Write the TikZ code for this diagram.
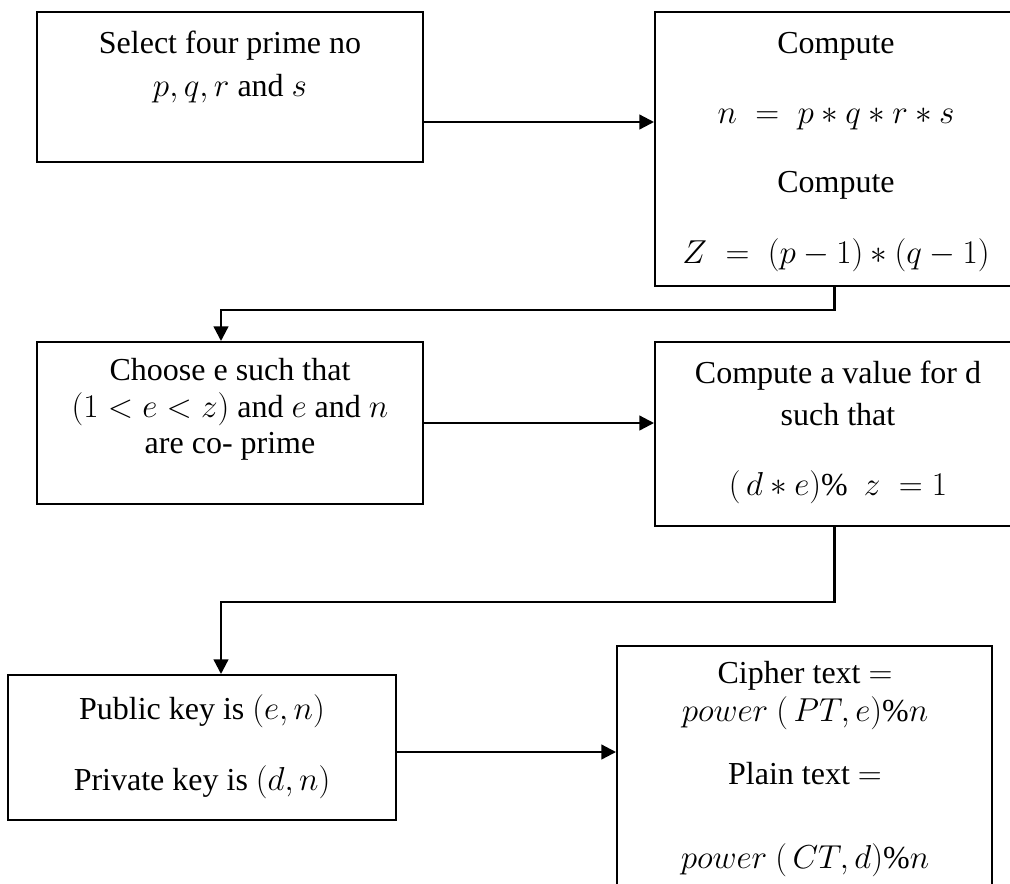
\documentclass[tikz,border=0pt]{standalone}
\usepackage{fontspec}
\setmainfont{Liberation Serif}
\usetikzlibrary{arrows.meta,calc}
\def\u{0.75pt}
\tikzset{
  box/.style={draw=black, line width=1.5pt, inner sep=0pt, fill=none},
  txt/.style={inner sep=0pt, anchor=base, font=\fontsize{24}{28}\selectfont},
  arr/.style={line width=1.7pt, -{Triangle[length=11pt,width=11pt]}},
  conn/.style={line width=1.7pt}
}
\begin{document}
\begin{tikzpicture}[x=0.75pt,y=-0.75pt]
\useasboundingbox (0,0) rectangle (1010,883);
\clip (0,0) rectangle (1010,883);
% boxes
\node[box, minimum width=386*\u, minimum height=150*\u] (b1) at (230,87) {};
\node[box, minimum width=359*\u, minimum height=274*\u] (b2) at (834.5,149) {};
\node[box, minimum width=386*\u, minimum height=162*\u] (b3) at (230,423) {};
\node[box, minimum width=359*\u, minimum height=184*\u] (b4) at (834.5,434) {};
\node[box, minimum width=388*\u, minimum height=145*\u] (b5) at (202,747.5) {};
\node[box, minimum width=375*\u, minimum height=254*\u] (b6) at (804.5,773) {};
% texts
\node[txt] (t1a) at (230,53) {Select four prime no};
\node[txt] (t1b) at (230,96) {$p,q,r$ and $s$};
\node[txt] (t2a) at (836,53) {Compute};
\node[txt] (t2b) at (836,123) {$n\;=\;p\ast q\ast r\ast s$};
\node[txt] (t2c) at (836,192) {Compute};
\node[txt] (t2d) at (836,263) {$Z\;=\;(p-1)\ast(q-1)$};
\node[txt] (t3a) at (230,380) {Choose e such that};
\node[txt] (t3b) at (230,417) {$(1<e<z)$ and $e$ and $n$};
\node[txt] (t3c) at (230,453) {are co- prime};
\node[txt] (t4a) at (838,383) {Compute a value for d};
\node[txt] (t4b) at (838,425) {such that};
\node[txt] (t4c) at (838,495) {$(\,d\ast e)$\%\ \ $z\;=1$};
\node[txt] (t5a) at (202,719) {Public key is $(e,n)$};
\node[txt] (t5b) at (202,790) {Private key is $(d,n)$};
\node[txt] (t6a) at (805,683) {Cipher text $=$};
\node[txt] (t6b) at (805,721) {$power\ (\,PT,e)\%n$};
\node[txt] (t6c) at (805,784) {Plain text $=$};
\node[txt] (t6d) at (805,868) {$power\ (\,CT,d)\%n$};
% connectors
\coordinate (a1) at (0,122);
\coordinate (j1) at (221,310);
\coordinate (j2) at (221,602);
\coordinate (a5) at (0,752);
\draw[arr] (b1.east |- a1) -- (b2.west |- a1);
\draw[arr] (b2.south) |- (j1) -- (b3.north -| j1);
\draw[arr] (b3.east) -- (b4.west |- b3.east);
\draw[arr] (b4.south) |- (j2) -- (b5.north -| j2);
\draw[arr] (b5.east |- a5) -- (b6.west |- a5);
\end{tikzpicture}
\end{document}
